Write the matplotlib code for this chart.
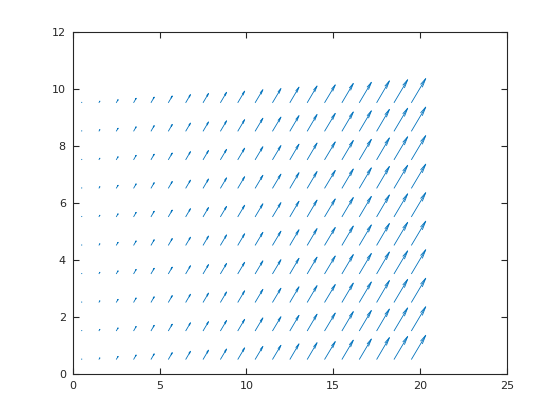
import numpy as np
import matplotlib
matplotlib.use("Agg")
import matplotlib.pyplot as plt
from matplotlib.collections import LineCollection

x_pos = [0.5, 1.5, 2.5, 3.5, 4.5, 5.5, 6.5, 7.5, 8.5, 9.5,
         10.5, 11.5, 12.5, 13.5, 14.5, 15.5, 16.5, 17.5, 18.5, 19.5]
y_pos = [0.5, 1.5, 2.5, 3.5, 4.5, 5.5, 6.5, 7.5, 8.5, 9.5]
u_col = [0.02, 0.06, 0.11, 0.15, 0.19, 0.23, 0.28, 0.32, 0.36, 0.40,
         0.45, 0.49, 0.53, 0.57, 0.62, 0.66, 0.70, 0.74, 0.79, 0.83]
v_col = [0.02, 0.06, 0.11, 0.16, 0.20, 0.24, 0.29, 0.33, 0.37, 0.41,
         0.46, 0.50, 0.55, 0.59, 0.63, 0.68, 0.72, 0.77, 0.81, 0.85]
x_ticks = [0, 5, 10, 15, 20, 25]
y_ticks = [0, 2, 4, 6, 8, 10, 12]

X, Y = np.meshgrid(x_pos, y_pos)
U = np.tile(u_col, (len(y_pos), 1))
V = np.tile(v_col, (len(y_pos), 1))
x0, y0, u, v = X.ravel(), Y.ravel(), U.ravel(), V.ravel()
tx, ty = x0 + u, y0 + v

# MATLAB-style open arrowheads
alpha, beta = 0.30, 0.20
segs = []
for i in range(len(x0)):
    segs.append([(x0[i], y0[i]), (tx[i], ty[i])])
    h1 = (tx[i] - alpha * (u[i] + beta * v[i]), ty[i] - alpha * (v[i] - beta * u[i]))
    h2 = (tx[i] - alpha * (u[i] - beta * v[i]), ty[i] - alpha * (v[i] + beta * u[i]))
    segs.append([h1, (tx[i], ty[i]), h2])

fig = plt.figure(figsize=(5.6, 4.2), dpi=100)
ax = fig.add_axes([0.13, 0.11, 0.775, 0.815])
ax.add_collection(LineCollection(segs, colors='#0072BD', linewidths=0.6))
ax.set_xlim(0, 25)
ax.set_ylim(0, 12)
ax.set_xticks(x_ticks)
ax.set_yticks(y_ticks)
dark = '#262626'
for s in ax.spines.values():
    s.set_color(dark)
    s.set_linewidth(0.8)
ax.tick_params(direction='in', top=True, right=True, length=4,
               colors=dark, labelsize=8, width=0.8, pad=5)
fig.savefig("out.png", dpi=100)
